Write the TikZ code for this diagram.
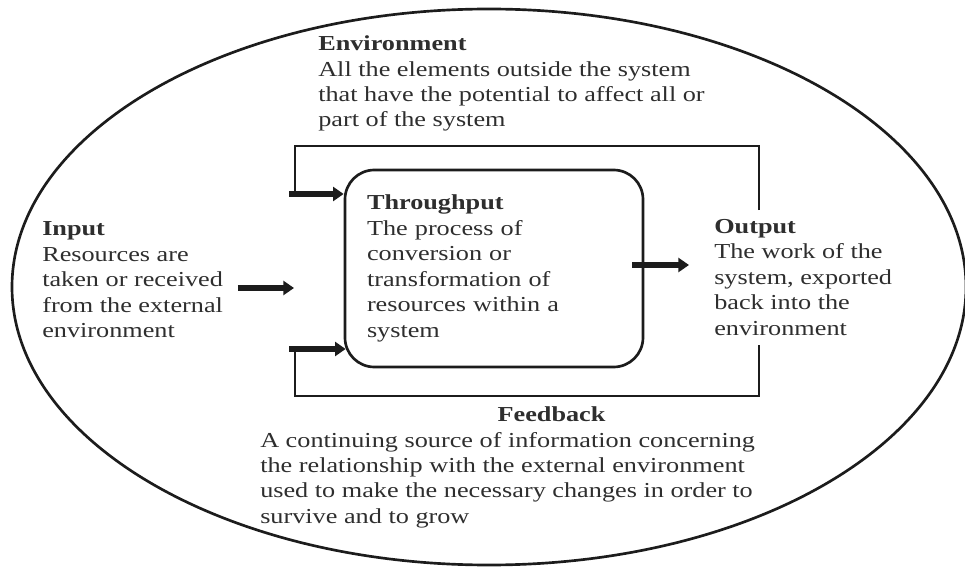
\documentclass[tikz,border=0pt]{standalone}
\usepackage{fontspec}
\setmainfont{Liberation Serif}[FakeStretch=1.23]
\usetikzlibrary{arrows.meta,positioning}
\definecolor{ink}{HTML}{1C1C1C}
\definecolor{inkgray}{HTML}{2E2E2E}

\begin{document}
\begin{tikzpicture}[x=0.75pt,y=-0.75pt,
		every node/.style={text=inkgray,font=\fontsize{16}{19.1}\selectfont},
		note/.style={align=left,inner sep=0pt,anchor=north west},
		process/.style={draw=ink,line width=2pt,rounded corners=22pt,minimum width=223.5pt,minimum height=147.75pt,text width=190.5pt,inner xsep=16.5pt,align=left},
		loopline/.style={draw=ink,line width=1.6pt},
		flow/.style={draw=ink,line width=5.2pt,-{Triangle[length=8pt,width=10.5pt]}}]
	\useasboundingbox (0,0) rectangle (965,567);
	\draw[ink,line width=2pt] (489,287) ellipse [x radius=477,y radius=278];

	\node[note] (env) at (318,35.5) {\textbf{Environment}\\All the elements outside the system\\that have the potential to affect all or\\part of the system};
	\node[process] (thru) at (494,268.5) {\textbf{Throughput}\\The process of\\conversion or\\transformation of\\resources within a\\system};
	\node[note] (input) at (42,221.5) {\textbf{Input}\\Resources are\\taken or received\\from the external\\environment};
	\node[note] (output) at (714,219) {\textbf{Output}\\The work of the\\system, exported\\back into the\\environment};
	\node[note] (feedback) at (260,406.5) {\hspace*{178pt}\textbf{Feedback}\\A continuing source of information concerning\\the relationship with the external environment\\used to make the necessary changes in order to\\survive and to grow};

	% feedback loop
	\coordinate (tl) at (295,146);
	\coordinate (tr) at (759,146);
	\coordinate (br) at (759,396);
	\coordinate (bl) at (295,396);
	\coordinate (gaptop) at (759,210);
	\coordinate (gapbot) at (759,345);
	\coordinate (fbtop) at (289,194);
	\coordinate (fbbot) at (289,349);
	\draw[loopline] (gaptop) -- (tr) -- (tl) -- (tl |- fbtop);
	\draw[loopline] (gapbot) -- (br) -- (bl) -- (bl |- fbbot);
	\draw[flow] (fbtop) -- (fbtop -| thru.west);
	\draw[flow] (fbbot) -- ([xshift=1.5pt]fbbot -| thru.west);

	% input and output
	\coordinate (inend) at (294,288);
	\coordinate (outend) at (689,265);
	\draw[flow] ([xshift=11pt]input.east |- inend) -- (inend);
	\draw[flow] ([xshift=-9pt]thru.east |- outend) -- (outend);
\end{tikzpicture}
\end{document}
